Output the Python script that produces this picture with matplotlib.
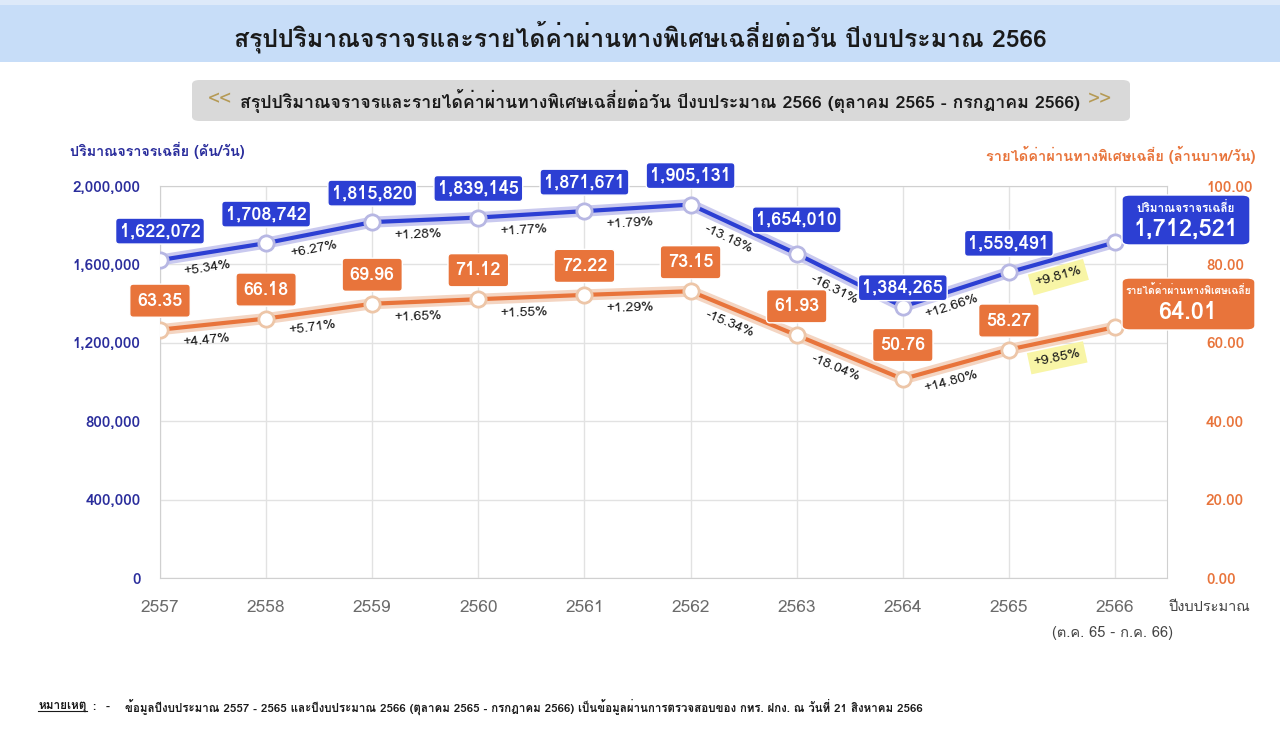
import matplotlib
matplotlib.use("Agg")
import matplotlib.pyplot as plt
from matplotlib.patches import Rectangle, FancyBboxPatch
import numpy as np

# ---- data -------------------------------------------------------------
years = [2557, 2558, 2559, 2560, 2561, 2562, 2563, 2564, 2565, 2566]
traffic = [1622072, 1708742, 1815820, 1839145, 1871671, 1905131, 1654010, 1384265, 1559491, 1712521]
revenue = [63.35, 66.18, 69.96, 71.12, 72.22, 73.15, 61.93, 50.76, 58.27, 64.01]
traffic_pct = ["+5.34%", "+6.27%", "+1.28%", "+1.77%", "+1.79%", "-13.18%", "-16.31%", "+12.66%", "+9.81%"]
revenue_pct = ["+4.47%", "+5.71%", "+1.65%", "+1.55%", "+1.29%", "-15.34%", "-18.04%", "+14.80%", "+9.85%"]
left_ticks = [0, 400000, 800000, 1200000, 1600000, 2000000]
right_ticks = [0, 20, 40, 60, 80, 100]

# Loma is a Tahoma-like Thai face with bold
plt.rcParams["font.family"] = ["Loma", "DejaVu Sans"]

BLUE = "#2c3fd3"
ORANGE = "#e8743b"
DARKBLUE = "#2a2d9c"
W, H = 1280, 737

fig = plt.figure(figsize=(W / 100, H / 100), dpi=100)
fig.patch.set_facecolor("white")

# header band
fig.patches.append(Rectangle((0, 1 - 62 / H), 1, 62 / H, transform=fig.transFigure,
                             facecolor="#c7ddf8", edgecolor="none", zorder=0))
fig.patches.append(Rectangle((0, 1 - 5 / H), 1, 5 / H, transform=fig.transFigure,
                             facecolor="#dde9f9", edgecolor="none", zorder=0))
fig.text(0.5, 1 - 37 / H, "สรุปปริมาณจราจรและรายได้ค่าผ่านทางพิเศษเฉลี่ยต่อวัน ปีงบประมาณ 2566",
         ha="center", va="center", fontsize=17.8, fontweight="bold", color="#1a1a1a")

# subtitle box
fig.patches.append(FancyBboxPatch((192 / W, 1 - 121 / H), 938 / W, 41 / H,
                                  boxstyle="round,pad=0,rounding_size=0.006",
                                  transform=fig.transFigure, facecolor="#d9d9d9",
                                  edgecolor="none", zorder=0))
fig.text(660 / W, 1 - 101 / H, "สรุปปริมาณจราจรและรายได้ค่าผ่านทางพิเศษเฉลี่ยต่อวัน ปีงบประมาณ 2566 (ตุลาคม 2565 - กรกฎาคม 2566)",
         ha="center", va="center", fontsize=12.7, fontweight="bold", color="#1a1a1a")
fig.text(220 / W, 1 - 100 / H, "<<", ha="center", va="center", fontsize=15, color="#b59a55")
fig.text(1100 / W, 1 - 100 / H, ">>", ha="center", va="center", fontsize=15, color="#b59a55")

# axes
x0, x1, ytop, ybot = 160, 1167, 186, 578
ax = fig.add_axes([x0 / W, 1 - ybot / H, (x1 - x0) / W, (ybot - ytop) / H])
ax.set_xlim(2557, 2566.49)
ax.set_ylim(0, 2000000)
ax2 = ax.twinx()
ax2.set_ylim(0, 100)

for s in ax.spines.values():
    s.set_color("#d0d0d0")
for s in ax2.spines.values():
    s.set_visible(False)
ax.grid(True, color="#e2e2e2", lw=1)
ax.set_axisbelow(True)
ax.set_xticks(years)
ax.set_xticklabels([str(y) for y in years], fontsize=12.5, color="#6b6b6b")
ax.set_yticks(left_ticks)
ax.set_yticklabels([f"{v:,}" for v in left_ticks], fontsize=11, color=DARKBLUE, fontweight="bold")
ax2.set_yticks(right_ticks)
ax2.set_yticklabels([f"{v:.2f}" for v in right_ticks], fontsize=11, color=ORANGE, fontweight="bold")
ax.tick_params(length=0, pad=14)
ax2.tick_params(length=0, pad=28)
ax.tick_params(axis="x", pad=16)

# lines with halo
ax.plot(years, traffic, color="#c9c9ef", lw=8, solid_capstyle="round", zorder=3)
ax.plot(years, traffic, color=BLUE, lw=3, zorder=4)
ax.plot(years, traffic, "o", ms=11, mfc="white", mec="#b7b7e3", mew=2, zorder=5)
ax2.plot(years, revenue, color="#f4d5c2", lw=8, solid_capstyle="round", zorder=3)
ax2.plot(years, revenue, color=ORANGE, lw=3, zorder=4)
ax2.plot(years, revenue, "o", ms=11, mfc="white", mec="#edc6a8", mew=2, zorder=5)

# value boxes (lift above the point, in pixels)
lift_t = {2563: 34, 2564: 19}
lift_r = {2564: 34}
for i, y in enumerate(years[:-1]):
    ax.annotate(f"{traffic[i]:,}", (y, traffic[i]), xytext=(0, 0.72 * lift_t.get(y, 29)),
                textcoords="offset points", ha="center", va="center", fontsize=13,
                fontweight="bold", color="white", zorder=8,
                bbox=dict(boxstyle="round,pad=0.22,rounding_size=0.2", fc=BLUE, ec="white", lw=1))
    ax2.annotate(f"{revenue[i]:.2f}", (y, revenue[i]), xytext=(0, 0.72 * lift_r.get(y, 29)),
                 textcoords="offset points", ha="center", va="center", fontsize=13,
                 fontweight="bold", color="white", zorder=8,
                 bbox=dict(boxstyle="round,pad=0.42,rounding_size=0.2", fc=ORANGE, ec="white", lw=1))

fig.canvas.draw()


def pct_labels(a, vals, labels):
    for i, lab in enumerate(labels):
        p0 = a.transData.transform((years[i], vals[i]))
        p1 = a.transData.transform((years[i + 1], vals[i + 1]))
        ang = np.degrees(np.arctan2(p1[1] - p0[1], p1[0] - p0[0]))
        t = 0.42
        px = years[i] + t * (years[i + 1] - years[i])
        py = vals[i] + t * (vals[i + 1] - vals[i])
        n = np.radians(ang - 90)
        off = 11
        kw = {}
        if i == len(labels) - 1:
            kw["bbox"] = dict(boxstyle="square,pad=0.35", fc="#f8f5a6", ec="none")
            off = 13
        a.annotate(lab, (px, py), xytext=(off * np.cos(n), off * np.sin(n)),
                   textcoords="offset points", ha="center", va="center", fontsize=10,
                   color="#1a1a1a", rotation=ang, rotation_mode="anchor", zorder=7, **kw)


pct_labels(ax, traffic, traffic_pct)
pct_labels(ax2, revenue, revenue_pct)

# last-point callouts
fig.patches.append(FancyBboxPatch((1122 / W, 1 - 245 / H), 128 / W, 50 / H,
                                  boxstyle="round,pad=0,rounding_size=0.006",
                                  transform=fig.transFigure, facecolor=BLUE,
                                  edgecolor="white", zorder=9))
fig.text(1186 / W, 1 - 207 / H, "ปริมาณจราจรเฉลี่ย", ha="center", va="center",
         fontsize=8.5, color="white", fontweight="bold", zorder=10)
fig.text(1186 / W, 1 - 229 / H, f"{traffic[-1]:,}", ha="center", va="center",
         fontsize=17, color="white", fontweight="bold", zorder=10)
fig.patches.append(FancyBboxPatch((1122 / W, 1 - 330 / H), 133 / W, 52 / H,
                                  boxstyle="round,pad=0,rounding_size=0.006",
                                  transform=fig.transFigure, facecolor=ORANGE,
                                  edgecolor="white", zorder=9))
fig.text(1188 / W, 1 - 290 / H, "รายได้ค่าผ่านทางพิเศษเฉลี่ย", ha="center", va="center",
         fontsize=7.4, color="white", fontweight="bold", zorder=10)
fig.text(1188 / W, 1 - 313 / H, f"{revenue[-1]:.2f}", ha="center", va="center",
         fontsize=17, color="white", fontweight="bold", zorder=10)

# axis titles
fig.text(70 / W, 1 - 150 / H, "ปริมาณจราจรเฉลี่ย (คัน/วัน)", ha="left", va="center",
         fontsize=10.3, color=DARKBLUE, fontweight="bold")
fig.text(1255 / W, 1 - 155 / H, "รายได้ค่าผ่านทางพิเศษเฉลี่ย (ล้านบาท/วัน)", ha="right", va="center",
         fontsize=10.5, color=ORANGE, fontweight="bold")
fig.text(1168 / W, 1 - 607 / H, "ปีงบประมาณ", ha="left", va="center", fontsize=10.5, color="#444444")
fig.text(1112 / W, 1 - 633 / H, "(ต.ค. 65 - ก.ค. 66)", ha="center", va="center", fontsize=10.5, color="#444444")

# footnote
fn = fig.text(38 / W, 1 - 707 / H, "หมายเหตุ", ha="left", va="center", fontsize=8.5,
              fontweight="bold", color="#1a1a1a")
fig.text(92 / W, 1 - 707 / H, ":", ha="left", va="center", fontsize=8.5,
         fontweight="bold", color="#1a1a1a")
fig.text(106 / W, 1 - 707 / H, "-", ha="left", va="center", fontsize=8.5,
         fontweight="bold", color="#1a1a1a")
fig.text(125 / W, 1 - 707 / H,
         "ข้อมูลปีงบประมาณ 2557 - 2565 และปีงบประมาณ 2566 (ตุลาคม 2565 - กรกฎาคม 2566) เป็นข้อมูลผ่านการตรวจสอบของ กทร. ฝกง. ณ วันที่ 21 สิงหาคม 2566",
         ha="left", va="center", fontsize=8.3, fontweight="bold", color="#1a1a1a")
fig.canvas.draw()
bb = fn.get_window_extent()
fig.lines.append(plt.Line2D([bb.x0 / W, bb.x1 / W], [(bb.y0 + 1) / H] * 2,
                            transform=fig.transFigure, color="#1a1a1a", lw=0.8))

fig.savefig("out.png", dpi=100)
